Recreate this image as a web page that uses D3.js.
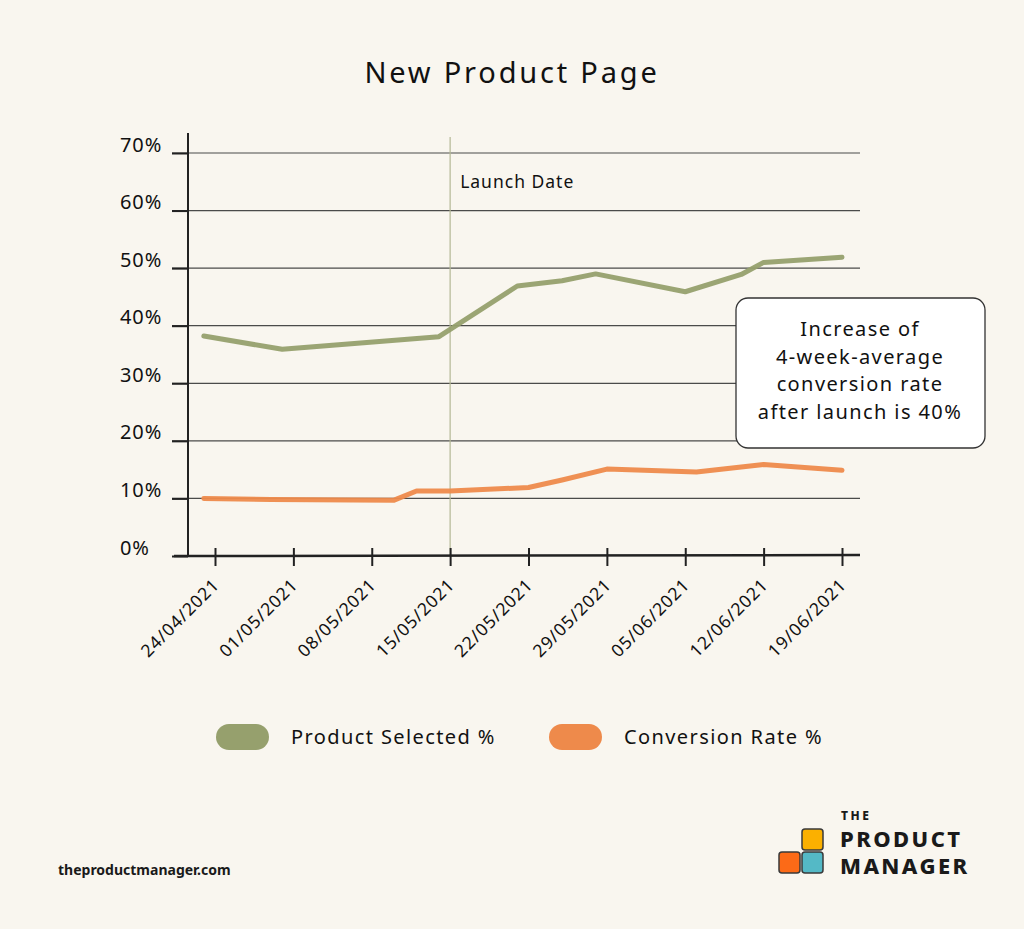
<!DOCTYPE html>
<html>
<head>
<meta charset="utf-8">
<script src="https://cdn.jsdelivr.net/npm/d3@7"></script>
<style>
  html, body { margin: 0; padding: 0; background: #f9f6ef; }
  svg { display: block; font-family: "Noto Sans", sans-serif; }
</style>
</head>
<body>
<svg id="chart" width="1024" height="929"></svg>
<script>
// Data
const tickDates = ['24/04/2021', '01/05/2021', '08/05/2021', '15/05/2021', '22/05/2021',
  '29/05/2021', '05/06/2021', '12/06/2021', '19/06/2021'];
const yTicks = [0, 0.1, 0.2, 0.3, 0.4, 0.5, 0.6, 0.7];

const productDates = ['23/04/2021', '30/04/2021', '14/05/2021', '21/05/2021', '25/05/2021',
  '28/05/2021', '05/06/2021', '10/06/2021', '12/06/2021', '19/06/2021'];
const productSelected = [0.382, 0.359, 0.381, 0.469, 0.478, 0.490, 0.459, 0.489, 0.510, 0.519];

const conversionDates = ['23/04/2021', '29/04/2021', '10/05/2021', '12/05/2021', '15/05/2021',
  '22/05/2021', '25/05/2021', '29/05/2021', '06/06/2021', '12/06/2021', '19/06/2021'];
const conversionRate = [0.100, 0.098, 0.097, 0.113, 0.113, 0.119, 0.132, 0.151, 0.146, 0.159, 0.149];

const launchDate = '15/05/2021';
const seriesNames = ['Product Selected %', 'Conversion Rate %'];
const seriesColors = ['#96a06d', '#ee8a4b'];
const noteLines = ['Increase of', '4-week-average', 'conversion rate', 'after launch is 40%'];

const parseDate = d3.timeParse('%d/%m/%Y');

const svg = d3.select('#chart');

// Scales
const x = d3.scaleTime()
  .domain([parseDate('24/04/2021'), parseDate('19/06/2021')])
  .range([215, 842]);

const y = d3.scaleLinear()
  .domain([0, 0.7])
  .range([556, 153]);

// Title
svg.append('text')
  .attr('x', 512)
  .attr('y', 83)
  .attr('text-anchor', 'middle')
  .attr('font-size', 29)
  .attr('letter-spacing', 2.8)
  .attr('fill', '#111')
  .text('New Product Page');

// Gridlines
svg.append('g')
  .selectAll('line')
  .data(yTicks.filter(d => d > 0))
  .join('line')
  .attr('x1', 172)
  .attr('x2', 860)
  .attr('y1', d => y(d))
  .attr('y2', d => y(d))
  .attr('stroke', '#2d2d2d')
  .attr('stroke-width', 1.2)
  .attr('stroke-opacity', 0.85);

// Y axis labels (left aligned)
const yAxis = svg.append('g')
  .attr('transform', 'translate(188,0)')
  .call(d3.axisLeft(y).tickValues(yTicks).tickFormat(d3.format('.0%')).tickSize(16));
yAxis.select('.domain').remove();
yAxis.selectAll('.tick line').attr('stroke', '#222').attr('stroke-width', 2);
yAxis.selectAll('.tick text')
  .attr('text-anchor', 'start')
  .attr('x', -68)
  .attr('dy', '-0.1em')
  .attr('font-size', 20)
  .attr('letter-spacing', 0.9)
  .attr('font-family', '"Noto Sans", sans-serif')
  .attr('fill', '#111');

// Launch date marker
const lx = x(parseDate(launchDate));
svg.append('line')
  .attr('x1', lx).attr('x2', lx)
  .attr('y1', 137).attr('y2', 556)
  .attr('stroke', '#b3b895')
  .attr('stroke-width', 1.2);
svg.append('text')
  .attr('x', lx + 10)
  .attr('y', 188)
  .attr('font-size', 17.5)
  .attr('letter-spacing', 1)
  .attr('fill', '#111')
  .text('Launch Date');

// Lines
const line = d3.line()
  .x(d => x(d.date))
  .y(d => y(d.value));

const series = [
  productDates.map((d, i) => ({ date: parseDate(d), value: productSelected[i] })),
  conversionDates.map((d, i) => ({ date: parseDate(d), value: conversionRate[i] }))
];

svg.append('g')
  .selectAll('path')
  .data(series)
  .join('path')
  .attr('d', line)
  .attr('fill', 'none')
  .attr('stroke', (d, i) => seriesColors[i])
  .attr('stroke-width', 5)
  .attr('stroke-linejoin', 'round')
  .attr('stroke-linecap', 'round')
  .attr('opacity', 0.95);

// Axes lines
svg.append('line')
  .attr('x1', 188).attr('x2', 188)
  .attr('y1', 133).attr('y2', 557)
  .attr('stroke', '#222')
  .attr('stroke-width', 2);

const xAxis = svg.append('g')
  .attr('transform', 'translate(0,556)')
  .call(d3.axisBottom(x)
    .tickValues(tickDates.map(parseDate))
    .tickFormat(d3.timeFormat('%d/%m/%Y'))
    .tickSize(10));
xAxis.select('.domain').remove();
xAxis.selectAll('.tick line')
  .attr('y1', -8)
  .attr('y2', 10)
  .attr('stroke', '#222')
  .attr('stroke-width', 2);
xAxis.selectAll('.tick text')
  .attr('text-anchor', 'end')
  .attr('font-size', 17.5)
  .attr('letter-spacing', 0.9)
  .attr('font-family', '"Noto Sans", sans-serif')
  .attr('fill', '#111')
  .attr('dy', 0)
  .attr('y', 0)
  .attr('transform', 'translate(5,30) rotate(-45)');

svg.append('line')
  .attr('x1', 174).attr('x2', 860)
  .attr('y1', 556).attr('y2', 555)
  .attr('stroke', '#222')
  .attr('stroke-width', 2.5);

// Annotation box
const note = svg.append('g');
note.append('rect')
  .attr('x', 736).attr('y', 298)
  .attr('width', 249).attr('height', 150)
  .attr('rx', 12)
  .attr('fill', '#fff')
  .attr('stroke', '#333')
  .attr('stroke-width', 1.3);
note.selectAll('text')
  .data(noteLines)
  .join('text')
  .attr('x', 860)
  .attr('y', (d, i) => 336 + i * 27.5)
  .attr('text-anchor', 'middle')
  .attr('font-size', 20)
  .attr('letter-spacing', 1.4)
  .attr('fill', '#111')
  .text(d => d);

// Legend
const legend = svg.append('g')
  .selectAll('g')
  .data(seriesNames)
  .join('g')
  .attr('transform', (d, i) => `translate(${[216, 549][i]},724)`);
legend.append('rect')
  .attr('width', 53).attr('height', 26)
  .attr('rx', 13)
  .attr('fill', (d, i) => seriesColors[i]);
legend.append('text')
  .attr('x', 75)
  .attr('y', 20)
  .attr('font-size', 20)
  .attr('letter-spacing', 1.4)
  .attr('fill', '#111')
  .text(d => d);

// Footer
svg.append('text')
  .attr('x', 58)
  .attr('y', 875)
  .attr('font-size', 14)
  .attr('font-weight', 700)
  .attr('fill', '#1a1a1a')
  .text('theproductmanager.com');

// Logo
const logo = svg.append('g');
const boxes = [
  { x: 802, y: 829, c: '#fbb000' },
  { x: 779, y: 852, c: '#fc6a17' },
  { x: 802, y: 852, c: '#54b9c6' }
];
logo.selectAll('rect')
  .data(boxes)
  .join('rect')
  .attr('x', d => d.x).attr('y', d => d.y)
  .attr('width', 21).attr('height', 21)
  .attr('rx', 3)
  .attr('fill', d => d.c)
  .attr('stroke', '#3a3a3a')
  .attr('stroke-width', 1.5);
logo.append('text')
  .attr('x', 841).attr('y', 820)
  .attr('font-size', 12).attr('font-weight', 800)
  .attr('letter-spacing', 2.5)
  .attr('fill', '#1a1a1a')
  .text('THE');
logo.append('text')
  .attr('x', 840).attr('y', 847)
  .attr('font-size', 22).attr('font-weight', 800)
  .attr('letter-spacing', 2.4)
  .attr('fill', '#1a1a1a')
  .text('PRODUCT');
logo.append('text')
  .attr('x', 840).attr('y', 874)
  .attr('font-size', 22).attr('font-weight', 800)
  .attr('letter-spacing', 2.4)
  .attr('fill', '#1a1a1a')
  .text('MANAGER');
</script>
</body>
</html>
